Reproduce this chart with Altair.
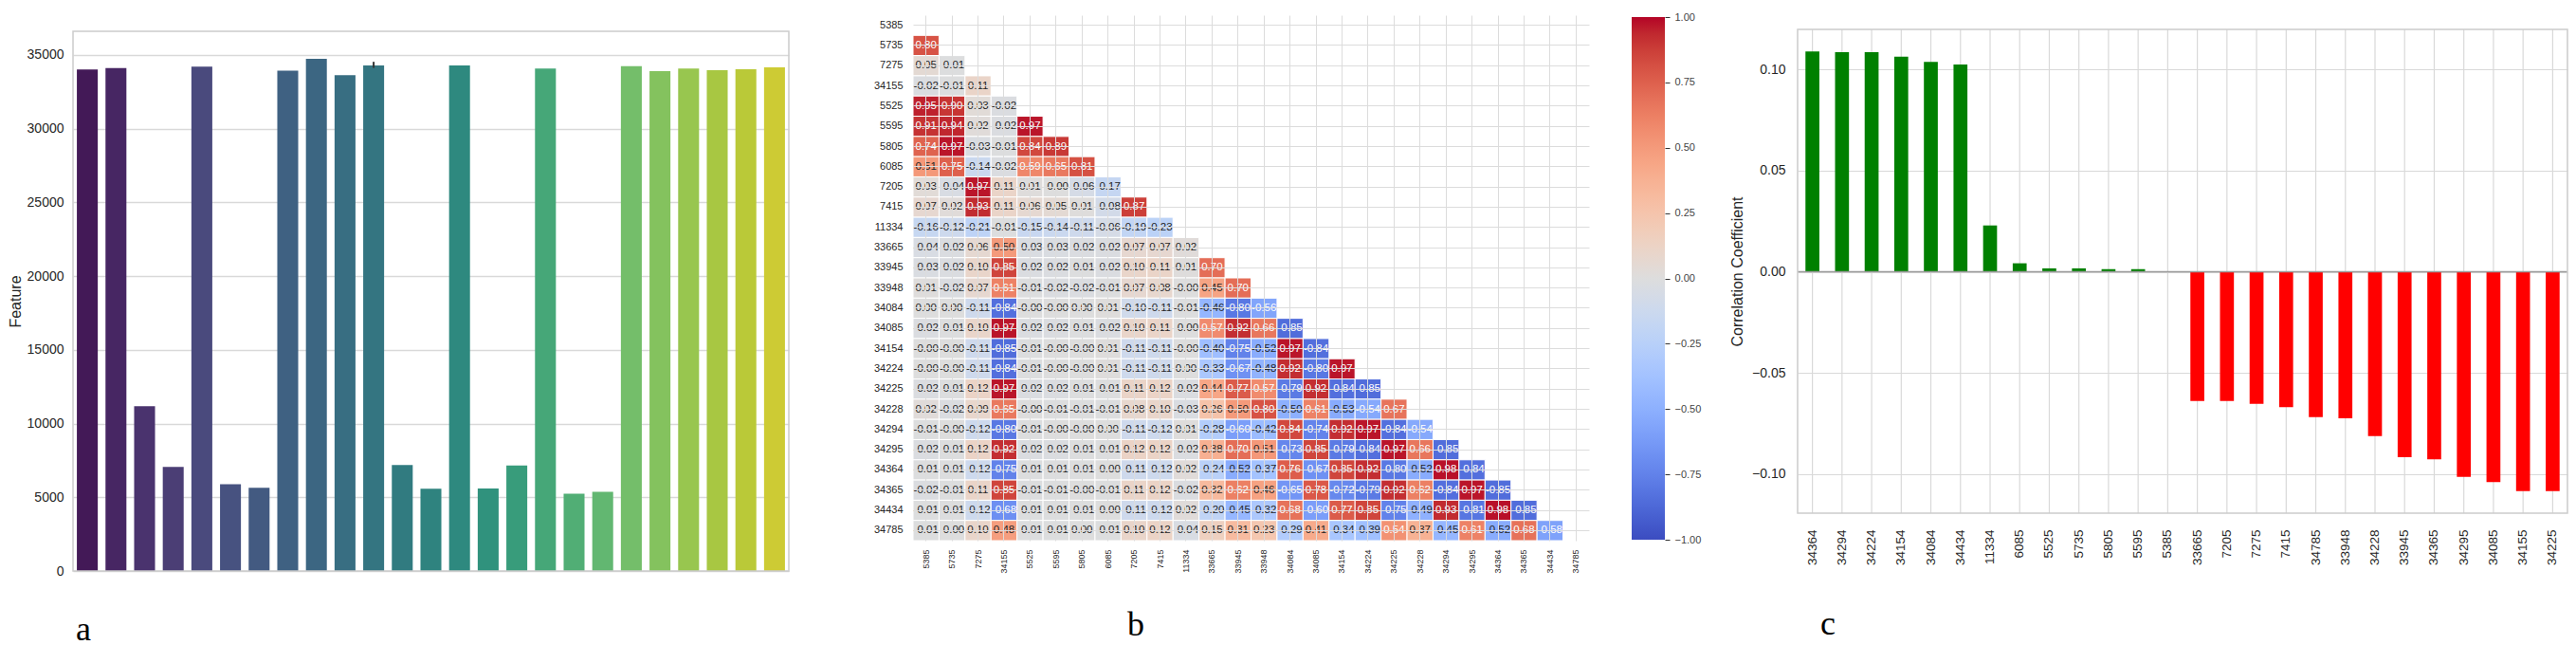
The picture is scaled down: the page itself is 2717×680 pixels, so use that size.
import altair as alt
import pandas as pd
import numpy as np
import colorsys

# ---------------- Panel a data ----------------
a_idx = list(range(25))
a_values = [34015, 34100, 11180, 7060, 34210, 5880, 5650, 33930, 34740, 33630,
            34290, 7190, 5580, 34290, 5600, 7150, 34080, 5240, 5370, 34235,
            33900, 34080, 33955, 34030, 34160]
a_err_idx = [10]
a_err_lo = [34120]
a_err_hi = [34530]
a_ticks = [0, 5000, 10000, 15000, 20000, 25000, 30000, 35000]

# viridis key colours (style) used to build seaborn's desaturated palette
viridis_stops = ["#440154", "#471365", "#482475", "#46337e", "#414487", "#3b528b", "#355f8d",
                 "#30698e", "#2a788e", "#25848e", "#21918c", "#1e9b8a", "#22a884", "#35b779",
                 "#44bf70", "#5ec962", "#7ad151", "#9fda3a", "#bddf26", "#dfe318", "#fde725"]

# ---------------- Panel b data ----------------
hm_labels = ["5385", "5735", "7275", "34155", "5525", "5595", "5805", "6085", "7205",
             "7415", "11334", "33665", "33945", "33948", "34084", "34085", "34154",
             "34224", "34225", "34228", "34294", "34295", "34364", "34365", "34434", "34785"]
hm_rows = [
    [],
    [0.80],
    [0.05, -0.01],
    [-0.02, -0.01, 0.11],
    [0.95, 0.90, 0.03, -0.02],
    [0.91, 0.94, 0.02, -0.02, 0.97],
    [0.74, 0.97, -0.03, -0.01, 0.84, 0.89],
    [0.51, 0.75, -0.14, -0.02, 0.59, 0.65, 0.81],
    [0.03, -0.04, 0.97, 0.11, 0.01, -0.00, -0.06, -0.17],
    [0.07, 0.02, 0.93, 0.11, 0.06, 0.05, 0.01, -0.08, 0.87],
    [-0.16, -0.12, -0.21, -0.01, -0.15, -0.14, -0.11, -0.06, -0.19, -0.23],
    [-0.04, -0.02, 0.06, 0.50, -0.03, -0.03, -0.02, -0.02, 0.07, 0.07, 0.02],
    [-0.03, -0.02, 0.10, 0.85, -0.02, -0.02, -0.01, -0.02, 0.10, 0.11, 0.01, 0.70],
    [0.01, -0.02, 0.07, 0.61, -0.01, -0.02, -0.02, -0.01, 0.07, 0.08, -0.00, 0.45, 0.70],
    [0.00, 0.00, -0.11, -0.84, -0.00, -0.00, 0.00, 0.01, -0.10, -0.11, -0.01, -0.46, -0.80, -0.56],
    [-0.02, -0.01, 0.10, 0.97, -0.02, -0.02, -0.01, -0.02, 0.10, 0.11, -0.00, 0.57, 0.92, 0.66, -0.85],
    [-0.00, -0.00, -0.11, -0.85, -0.01, -0.00, -0.00, 0.01, -0.11, -0.11, -0.00, -0.40, -0.75, -0.52,
     0.97, -0.84],
    [-0.00, -0.00, -0.11, -0.84, -0.01, -0.00, -0.00, 0.01, -0.11, -0.11, 0.00, -0.33, -0.67, -0.48,
     0.92, -0.80, 0.97],
    [-0.02, -0.01, 0.12, 0.97, -0.02, -0.02, -0.01, -0.01, 0.11, 0.12, -0.02, 0.44, 0.77, 0.57,
     -0.79, 0.92, -0.84, -0.85],
    [0.02, -0.02, 0.09, 0.65, -0.00, -0.01, -0.01, -0.01, 0.08, 0.10, -0.03, 0.26, 0.50, 0.80,
     -0.50, 0.61, -0.53, -0.54, 0.67],
    [-0.01, -0.00, -0.12, -0.80, -0.01, -0.00, -0.00, 0.00, -0.11, -0.12, 0.01, -0.28, -0.60, -0.42,
     0.84, -0.74, 0.92, 0.97, -0.84, -0.54],
    [-0.02, -0.01, 0.12, 0.92, -0.02, -0.02, -0.01, -0.01, 0.12, 0.12, -0.02, 0.38, 0.70, 0.51,
     -0.73, 0.85, -0.79, -0.84, 0.97, 0.66, -0.85],
    [-0.01, -0.01, -0.12, -0.75, -0.01, -0.01, -0.01, -0.00, -0.11, -0.12, 0.02, -0.24, -0.52, -0.37,
     0.76, -0.67, 0.85, 0.92, -0.80, -0.52, 0.98, -0.84],
    [-0.02, -0.01, 0.11, 0.85, -0.01, -0.01, -0.00, -0.01, 0.11, 0.12, -0.02, 0.32, 0.62, 0.46,
     -0.65, 0.78, -0.72, -0.79, 0.92, 0.62, -0.84, 0.97, -0.85],
    [-0.01, -0.01, -0.12, -0.68, -0.01, -0.01, -0.01, -0.00, -0.11, -0.12, 0.02, -0.20, -0.45, -0.32,
     0.68, -0.60, 0.77, 0.85, -0.75, -0.49, 0.93, -0.81, 0.98, -0.85],
    [-0.01, -0.00, 0.10, 0.48, -0.01, -0.01, 0.00, -0.01, 0.10, 0.12, -0.04, 0.15, 0.31, 0.23,
     -0.29, 0.41, -0.34, -0.39, 0.54, 0.37, -0.45, 0.61, -0.52, 0.68, -0.58],
]
cb_ticks = [-1.0, -0.75, -0.5, -0.25, 0.0, 0.25, 0.5, 0.75, 1.0]

# coolwarm colormap stops (style)
coolwarm = ["#3b4cc0", "#445acc", "#4d68d7", "#5775e1", "#6282ea", "#6c8ef1", "#779af7", "#82a5fb",
            "#8db0fe", "#98b9ff", "#a3c2ff", "#aec9fd", "#b8d0f9", "#c2d5f4", "#ccd9ee", "#d5dbe6",
            "#dddddd", "#e5d8d1", "#ecd3c5", "#f1ccb8", "#f5c4ac", "#f7bb9f", "#f7b193", "#f7a686",
            "#f49a7b", "#f18d6f", "#ec7f63", "#e57059", "#de604d", "#d55043", "#cb3e38", "#c0282f",
            "#b40426"]

# ---------------- Panel c data ----------------
c_labels = ["34364", "34294", "34224", "34154", "34084", "34434", "11334", "6085", "5525", "5735",
            "5805", "5595", "5385", "33665", "7205", "7275", "7415", "34785", "33948", "34228",
            "33945", "34365", "34295", "34085", "34155", "34225"]
c_values = [0.1089, 0.1085, 0.1085, 0.1063, 0.1038, 0.1024, 0.0229, 0.0042, 0.0017, 0.0017,
            0.0013, 0.0013, 0.0002, -0.0639, -0.0639, -0.0653, -0.0669, -0.0718, -0.0724, -0.0812,
            -0.0916, -0.0927, -0.1014, -0.1039, -0.1084, -0.1084]
c_ticks = [-0.10, -0.05, 0.0, 0.05, 0.10]
zero_line = [0.0]

# ---------------- helpers ----------------
FONT = "Liberation Sans"
TXT = "#262626"
GRID = "#d9d9d9"
EDGE = "#cccccc"


def hex_rgb(h):
    return np.array([int(h[i:i + 2], 16) for i in (1, 3, 5)]) / 255.0


def rgb_hex(rgb):
    return "#" + "".join(f"{int(round(max(0, min(1, c)) * 255)):02x}" for c in rgb)


def sample(stops, t):
    arr = np.array([hex_rgb(c) for c in stops])
    pos = np.linspace(0, 1, len(stops))
    return np.array([np.interp(t, pos, arr[:, k]) for k in range(3)])


def desaturate(rgb, prop=0.75):
    h, l, s = colorsys.rgb_to_hls(*rgb)
    return colorsys.hls_to_rgb(h, l, s * prop)


n_a = len(a_idx)
a_palette = [rgb_hex(desaturate(sample(viridis_stops, (k + 1) / (n_a + 1)))) for k in range(n_a)]

cw_rgb = np.array([hex_rgb(c) for c in coolwarm])
cw_pos = np.linspace(-1, 1, len(coolwarm))


def text_color(v):
    rgb = np.array([np.interp(v, cw_pos, cw_rgb[:, k]) for k in range(3)])
    lin = np.where(rgb <= 0.03928, rgb / 12.92, ((rgb + 0.055) / 1.055) ** 2.4)
    lum = 0.2126 * lin[0] + 0.7152 * lin[1] + 0.0722 * lin[2]
    return TXT if lum > 0.408 else "white"


ONE = pd.DataFrame({"s": [0]})


def spacer(w):
    return alt.Chart(ONE).mark_point(opacity=0).encode(
        x=alt.X("s:Q", axis=None), y=alt.Y("s:Q", axis=None)
    ).properties(width=w, height=1)


def frame(w, top, bottom):
    return alt.Chart(ONE).mark_rect(filled=False, stroke=EDGE, strokeWidth=1.5).encode(
        x=alt.value(0), x2=alt.value(w), y=alt.value(top), y2=alt.value(bottom))


def letter(t, dx, offset):
    return alt.TitleParams(t, orient="bottom", anchor="start", frame="group", dx=dx, offset=offset,
                           font="Liberation Serif", fontSize=36, fontWeight="normal",
                           baseline="top", color="black")


# ---------------- Panel a ----------------
A_W, A_TOP, A_BOT = 755, 17, 586
df_a = pd.DataFrame({"idx": a_idx, "val": a_values})
df_err = pd.DataFrame({"idx": a_err_idx, "lo": a_err_lo, "hi": a_err_hi})
xa = alt.X("idx:O", axis=None, scale=alt.Scale(paddingInner=0.27, paddingOuter=0.135))
bars_a = alt.Chart(df_a).mark_bar().encode(
    x=xa,
    y=alt.Y("val:Q", scale=alt.Scale(domain=[0, 36600], nice=False, range=[A_BOT, A_TOP]),
            axis=alt.Axis(values=a_ticks, format="d", title="Feature", grid=True, domain=False,
                          ticks=False, labelFontSize=14, labelPadding=10, titleFontSize=16,
                          titlePadding=4, gridColor=GRID, gridWidth=1.5)),
    color=alt.Color("idx:O", legend=None, scale=alt.Scale(domain=a_idx, range=a_palette)),
)
err_a = alt.Chart(df_err).mark_rule(color="#333333", strokeWidth=2).encode(
    x=xa, y="lo:Q", y2="hi:Q")
panel_a = alt.layer(bars_a, err_a, frame(A_W, A_TOP, A_BOT)).properties(
    width=A_W, height=A_BOT, title=letter("a", 3, 38))

# ---------------- Panel b ----------------
recs = []
for i, row in enumerate(hm_rows):
    for j, v in enumerate(row):
        recs.append({"xl": hm_labels[j], "yl": hm_labels[i], "v": v,
                     "lab": f"{v:.2f}", "tc": text_color(v)})
df_h = pd.DataFrame(recs)
xh = alt.X("xl:N", sort=hm_labels,
           scale=alt.Scale(domain=hm_labels, paddingInner=0, paddingOuter=0),
           axis=alt.Axis(title=None, labelAngle=-90, labelFontSize=9, labelPadding=9, domain=False,
                         ticks=False, grid=True, gridColor="#dcdcdc", bandPosition=0.5))
yh = alt.Y("yl:N", sort=hm_labels,
           scale=alt.Scale(domain=hm_labels, paddingInner=0, paddingOuter=0),
           axis=alt.Axis(title=None, labelFontSize=11, labelPadding=11, domain=False, ticks=False,
                         grid=True, gridColor="#dcdcdc", bandPosition=0.5))
rect_h = alt.Chart(df_h).mark_rect(stroke="white", strokeWidth=1).encode(
    x=xh, y=yh,
    color=alt.Color("v:Q", legend=None,
                    scale=alt.Scale(domain=list(cw_pos), range=coolwarm, interpolate="rgb")),
)
text_h = alt.Chart(df_h).mark_text(font=FONT, fontSize=11.5).encode(
    x=xh, y=yh, text="lab:N", color=alt.Color("tc:N", scale=None, legend=None))
panel_b = alt.layer(rect_h, text_h).resolve_scale(color="independent").properties(
    width=713, height=554, title=letter("b", 226, 38))

# colorbar
CB_TOP, CB_BOT = 2, 553
df_cb = pd.DataFrame({"lo": [cb_ticks[0]], "hi": [cb_ticks[-1]]})
grad = alt.LinearGradient(
    gradient="linear", x1=0, x2=0, y1=1, y2=0,
    stops=[alt.GradientStop(color=c, offset=float(k) / (len(coolwarm) - 1))
           for k, c in enumerate(coolwarm)])
colorbar = alt.Chart(df_cb).mark_rect(fill=grad).encode(
    x=alt.value(0), x2=alt.value(35),
    y=alt.Y("lo:Q", scale=alt.Scale(domain=[-1, 1], nice=False, zero=False, range=[CB_BOT, CB_TOP]),
            axis=alt.Axis(orient="right", values=cb_ticks, format=".2f", title=None, grid=False,
                          domain=False, tickSize=5, tickColor="#333333", tickWidth=1,
                          labelFontSize=11, labelPadding=5, labelOverlap=False,
                          labelColor="#444444")),
    y2="hi:Q",
).properties(width=35, height=CB_BOT)

# ---------------- Panel c ----------------
C_W, C_TOP, C_BOT = 812, 15, 525
df_c = pd.DataFrame({"feat": c_labels, "r": c_values})
df_c["sign"] = np.where(df_c["r"] >= 0, "pos", "neg")
xc = alt.X("feat:N", sort=c_labels, scale=alt.Scale(paddingInner=0.53, paddingOuter=0.265),
           axis=alt.Axis(title=None, labelAngle=-90, labelFontSize=13.5, labelPadding=17,
                         domain=False, ticks=False, grid=False))
vgrid_c = alt.Chart(df_c).mark_rule(color=GRID, strokeWidth=1.2).encode(
    x=xc, y=alt.value(C_TOP), y2=alt.value(C_BOT))
bars_c = alt.Chart(df_c).mark_bar().encode(
    x=xc,
    y=alt.Y("r:Q", scale=alt.Scale(domain=[-0.1193, 0.1198], nice=False, zero=True,
                                   range=[C_BOT, C_TOP]),
            axis=alt.Axis(values=c_ticks, format=".2f", title="Correlation Coefficient",
                          grid=True, gridColor=GRID, gridWidth=1.2, domain=False, ticks=False,
                          labelFontSize=14, labelPadding=13, titleFontSize=16, titlePadding=7)),
    color=alt.Color("sign:N", legend=None,
                    scale=alt.Scale(domain=["pos", "neg"], range=["#008000", "#ff0000"])),
)
zero_c = alt.Chart(pd.DataFrame({"z": zero_line})).mark_rule(color="#9a9a9a", strokeWidth=1.5).encode(
    y="z:Q")
panel_c = alt.layer(vgrid_c, bars_c, zero_c, frame(C_W, C_TOP, C_BOT)).properties(
    width=C_W, height=C_BOT, title=letter("c", 24, 45))

# ---------------- layout ----------------
chart = alt.hconcat(panel_a, spacer(131), panel_b, spacer(45), colorbar, spacer(140), panel_c,
                    spacing=0, bounds="flush").resolve_scale(color="independent").properties(
    padding={"left": 0, "top": 4, "right": 0, "bottom": -2}
).configure(font=FONT).configure_view(strokeWidth=0).configure_axis(
    labelColor=TXT, titleColor=TXT, titleFontWeight="normal", labelFont=FONT, titleFont=FONT
)

chart.save("out.html", embed_options={"renderer": "svg", "actions": False})
